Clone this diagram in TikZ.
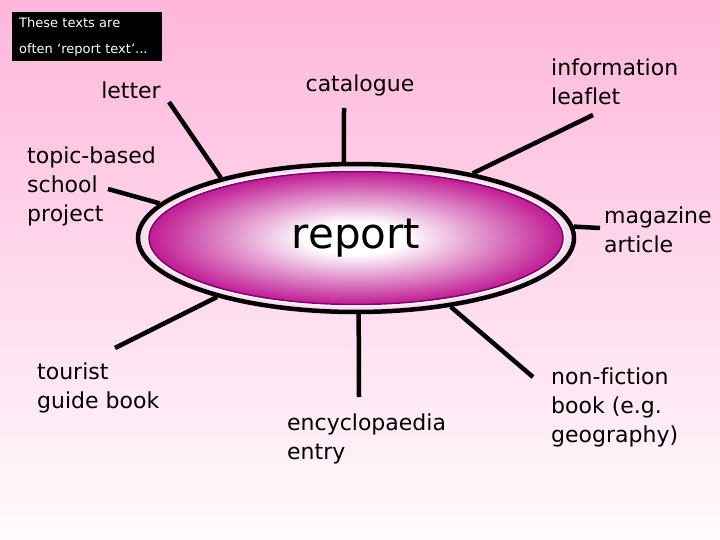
\documentclass[tikz,border=0pt]{standalone}
\usepackage{fontspec}
\setmainfont[Ligatures=NoCommon]{DejaVu Sans}
\usepackage{xcolor}
\usepackage{tikz}
\usetikzlibrary{shapes.geometric, positioning}

\definecolor{bgpink}{RGB}{255,182,219}
\definecolor{bgwhite}{RGB}{255,251,253}
\definecolor{ringpink}{RGB}{250,218,238}
\definecolor{repmag}{RGB}{192,28,148}
\definecolor{repedge}{RGB}{135,0,115}
\pgfdeclareradialshading{reportglow}{\pgfpoint{0bp}{0bp}}{color(0bp)=(white); color(6bp)=(white); color(25bp)=(repmag); color(50bp)=(repmag)}

\begin{document}
\begin{tikzpicture}[x=1pt, y=-1pt,
    txt/.style={font=\fontsize{22}{29}\selectfont, align=left, inner sep=0pt},
    spoke/.style={line width=4.5pt},
    hubring/.style={ellipse, draw, line width=4.5pt, fill=ringpink, minimum width=436pt, minimum height=148pt},
    hubcore/.style={ellipse, draw=repedge, line width=1.5pt, shading=reportglow, preaction={draw=white, line width=5pt},
        minimum width=414pt, minimum height=133pt, font=\fontsize{42}{48}\selectfont}]

    % background and margins
    \shade [top color=bgpink, bottom color=bgwhite] (0,0) rectangle (720,540);
    \useasboundingbox (0,0) rectangle (720,540);

    \node [fill=black, text=white, anchor=north west, minimum width=150pt, minimum height=49pt,
        text width=136pt, inner xsep=7pt, align=left, font=\fontsize{13}{26}\selectfont] (note) at (12,12)
        {These texts are\\often ‘report text’...};

    % the hub
    \node [hubring] (hub) at (356,238) {};
    \node [hubcore] (report) at (356,238) {report};

    % labels round the hub
    \node [txt] (letter) at (131,90) {letter};
    \node [txt] (catalogue) at (360,85) {catalogue};
    \node [txt, anchor=west] (leaflet) at (551,82) {information\\leaflet};
    \node [txt, anchor=west] (project) at (27,186) {topic-based\\school\\project};
    \node [txt, anchor=west] (magazine) at (604,230) {magazine\\article};
    \node [txt, anchor=west] (tourist) at (37,388) {tourist\\guide book};
    \node [txt, anchor=west] (encyclo) at (287,439) {encyclopaedia\\entry};
    \node [txt, anchor=west] (nonfiction) at (551,407) {non-fiction\\book (e.g.\\geography)};

    % free ends of the spokes
    \coordinate (e-letter) at (169,102);
    \coordinate (e-catalogue) at (344,108);
    \coordinate (e-leaflet) at (593,115);
    \coordinate (e-project) at (108,189);
    \coordinate (e-magazine) at (600,228);
    \coordinate (e-tourist) at (115,348);
    \coordinate (e-encyclo) at (359,397);
    \coordinate (e-nonfiction) at (533,377);

    \draw [spoke] (e-letter) -- (hub.156);
    \draw [spoke] (e-catalogue) -- (hub.99);
    \draw [spoke] (e-leaflet) -- (hub.29);
    \draw [spoke] (e-project) -- (hub.170);
    \draw [spoke] (e-magazine) -- (hub.3);
    \draw [spoke] (e-tourist) -- (hub.203);
    \draw [spoke] (e-encyclo) -- (hub.272);
    \draw [spoke] (e-nonfiction) -- (hub.324);
\end{tikzpicture}
\end{document}
